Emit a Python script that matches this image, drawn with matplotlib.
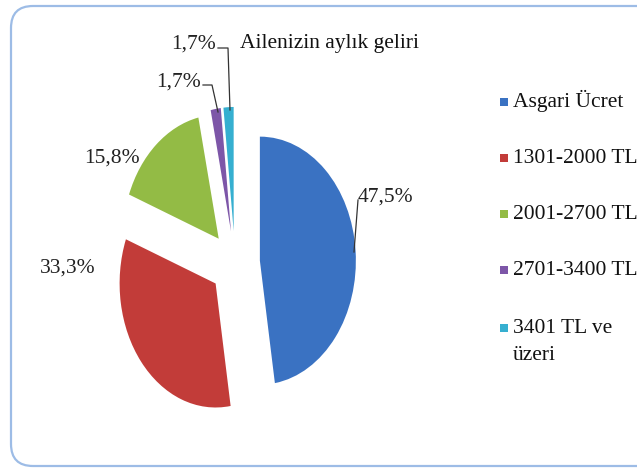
import matplotlib
matplotlib.use("Agg")
import matplotlib.pyplot as plt
from matplotlib.patches import FancyBboxPatch, Rectangle

# data
categories = ["Asgari Ücret", "1301-2000 TL", "2001-2700 TL", "2701-3400 TL", "3401 TL ve\nüzeri"]
values = [47.5, 33.3, 15.8, 1.7, 1.7]
colors = ["#3a72c2", "#c23c39", "#93bb45", "#7d56a8", "#36afd0"]
title = "Ailenizin aylık geliri"

W, H = 637, 471
plt.rcParams["font.family"] = ["Liberation Serif", "DejaVu Serif"]
FS = 15.5

fig = plt.figure(figsize=(W / 100, H / 100), dpi=100)


def px(x, y):
    # pixel position (top-left origin) -> figure fraction
    return x / W, 1 - y / H


# rounded frame (right side runs off the picture)
frame = FancyBboxPatch((11, 5), 680, 460, boxstyle="round,pad=0,rounding_size=22",
                       transform=None, fill=False, ec="#9dbce6", lw=1.6)
fig.patches.append(frame)

# pie: 1 unit = 96 px horizontally, 124 px vertically (stretched chart)
ax = fig.add_axes([0.0675, 0.0200, 0.6028, 0.8425])
wedges, _ = ax.pie(values, explode=[0.26] * len(values), colors=colors,
                   startangle=90, counterclock=False, radius=1.0)
ax.set_aspect("auto")
ax.set_xlim(-2, 2)
ax.set_ylim(-1.6, 1.6)
ax.axis("off")


def pct(v):
    return f"{v:.1f}%".replace(".", ",")


# data labels (anchor x, baseline y, ha)
label_pos = [(358, 202, "left"), (96, 273, "right"), (140, 163, "right"),
             (201, 87, "right"), (216, 49, "right")]
for v, (x, y, ha) in zip(values, label_pos):
    fig.text(*px(x, y), pct(v), fontsize=FS, ha=ha, va="baseline", color="#222222")

# leader lines
leaders = [[(358, 200), (354, 252)],
           [(203, 85), (212, 85), (218, 112)],
           [(218, 48), (228, 48), (230, 110)]]
for pts in leaders:
    xs = [px(x, y)[0] for x, y in pts]
    ys = [px(x, y)[1] for x, y in pts]
    fig.add_artist(plt.Line2D(xs, ys, transform=fig.transFigure, color="#333333", lw=0.9))

fig.text(*px(240, 48), title, fontsize=FS, ha="left", va="baseline", color="#111111")

# legend
leg_y = [107, 163, 219, 275, 333]
for lab, col, y in zip(categories, colors, leg_y):
    fx, fy = px(500, y - 1)
    fig.patches.append(Rectangle((fx, fy), 8 / W, 8 / H, transform=fig.transFigure,
                                 fc=col, ec="none"))
    for i, line in enumerate(lab.split("\n")):
        fig.text(*px(513, y + 27 * i), line, fontsize=FS, ha="left", va="baseline",
                 color="#111111")

fig.savefig("out.png", dpi=100)
